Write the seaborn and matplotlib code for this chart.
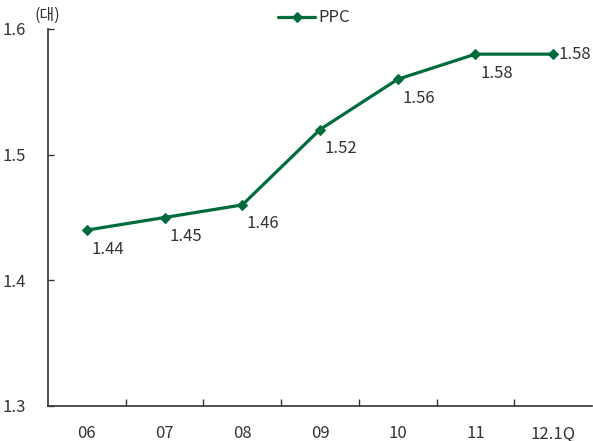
import matplotlib
matplotlib.use("Agg")
import matplotlib.pyplot as plt
import seaborn as sns
import pandas as pd
from matplotlib.ticker import FixedLocator

categories = ["06", "07", "08", "09", "10", "11", "12.1Q"]
ppc = [1.44, 1.45, 1.46, 1.52, 1.56, 1.58, 1.58]
y_ticks = [1.3, 1.4, 1.5, 1.6]
y_tick_labels = ["1.3", "1.4", "1.5", "1.6"]

sns.set_theme(style="white")
plt.rcParams["font.family"] = ["Noto Sans CJK KR", "DejaVu Sans"]

green = "#006B3C"
text_color = "#333333"
df = pd.DataFrame({"x": range(len(categories)), "PPC": ppc})

fig = plt.figure(figsize=(5.93, 4.41), dpi=100)
ax = fig.add_axes([48 / 593, 35 / 441, 544 / 593, 377 / 441])

sns.lineplot(data=df, x="x", y="PPC", ax=ax, color=green, linewidth=2.3,
             marker="D", markersize=5, markeredgecolor=green, label="PPC")

ax.set_xlim(-0.5, len(categories) - 0.5)
ax.set_ylim(1.3, 1.6)
ax.set_xticks(range(len(categories)))
ax.set_xticklabels(categories, fontsize=12, color=text_color)
ax.xaxis.set_minor_locator(FixedLocator([i + 0.5 for i in range(len(categories) - 1)]))
ax.tick_params(axis="x", which="major", length=0, pad=14)
ax.tick_params(axis="x", which="minor", length=5, direction="in", width=1, color="#333333", bottom=True)
ax.set_yticks(y_ticks)
ax.set_yticklabels(y_tick_labels, fontsize=12, color=text_color)
ax.tick_params(axis="y", which="major", length=4, direction="in", width=1, color="#333333", left=True, pad=16)
ax.set_xlabel("")
ax.set_ylabel("")

for s in ["top", "right"]:
    ax.spines[s].set_visible(False)
for s in ["left", "bottom"]:
    ax.spines[s].set_color("#333333")
    ax.spines[s].set_linewidth(1.2)

for i, v in enumerate(ppc):
    if i == len(ppc) - 1:
        ax.annotate(f"{v:.2f}", (i, v), xytext=(5, 0), textcoords="offset pixels",
                    ha="left", va="center", fontsize=12, color=text_color)
    else:
        ax.annotate(f"{v:.2f}", (i, v), xytext=(21, -19), textcoords="offset pixels",
                    ha="center", va="center", fontsize=12, color=text_color)

fig.text(34 / 593, 1 - 15 / 441, "(대)", fontsize=11.5, ha="left", va="center", color=text_color)

leg = ax.legend(loc="center", bbox_to_anchor=(314 / 593, 1 - 18 / 441),
                bbox_transform=fig.transFigure, frameon=False, fontsize=12,
                handlelength=2.2, handletextpad=0.2, labelcolor=text_color)

fig.savefig("out.png", dpi=100)
